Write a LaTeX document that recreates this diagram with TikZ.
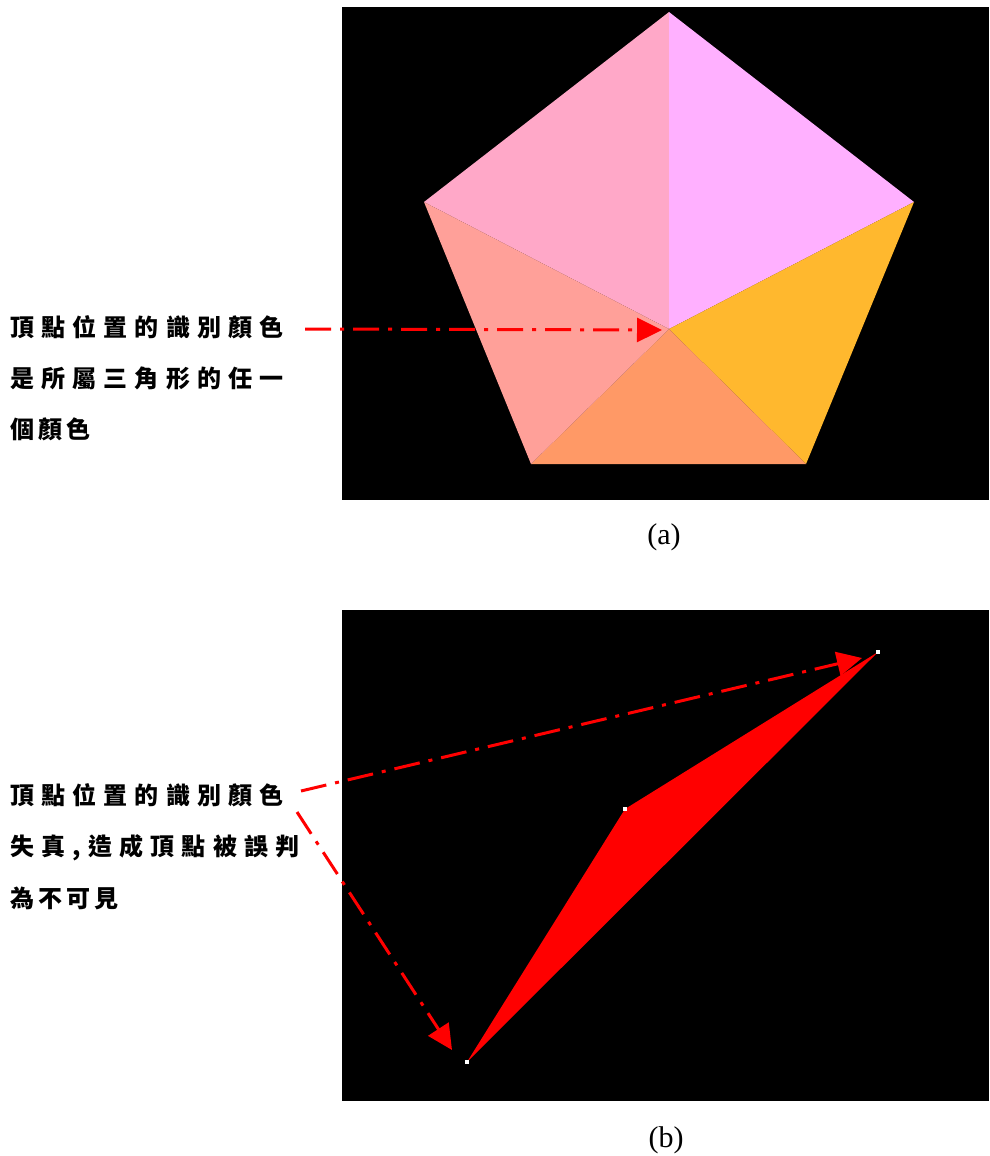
\documentclass[tikz,border=0pt]{standalone}
\usepackage{fontspec}
\setmainfont{Liberation Serif}
\newfontfamily\cjk{Noto Sans CJK TC}
\newfontfamily\cjkwide[LetterSpace=30]{Noto Sans CJK TC}
\newfontfamily\cjknarrow[LetterSpace=17]{Noto Sans CJK TC}
\usetikzlibrary{arrows.meta}
\tikzset{
    note/.style={anchor=base west,inner sep=0pt,font=\fontsize{24}{24}\selectfont},
    caption/.style={anchor=center,inner sep=0pt,font=\fontsize{30}{30}\selectfont},
    pointer/.style={red,line width=3pt,dash pattern=on 26pt off 9pt on 4pt off 9pt,-{Triangle[length=25pt,width=24pt]}},
    vertexdot/.style={fill=white,minimum size=4pt,inner sep=0pt}
}
\definecolor{faceul}{RGB}{255,168,200}
\definecolor{faceur}{RGB}{255,176,255}
\definecolor{facer}{RGB}{255,184,46}
\definecolor{faceb}{RGB}{255,153,102}
\definecolor{facel}{RGB}{255,160,153}
\begin{document}
\begin{tikzpicture}[x=1pt,y=-1pt]
                \useasboundingbox (0,0) rectangle (989,1156);
                \fill[black] (342,7) rectangle (989,500);
                \coordinate (top) at (669,12);
                \coordinate (right) at (914,202);
                \coordinate (lowright) at (806,464);
                \coordinate (lowleft) at (531,464);
                \coordinate (left) at (424,202);
                \coordinate (mid) at (669,329);
                \fill[faceul] (mid)--(left)--(top)--cycle;
                \fill[faceur] (mid)--(top)--(right)--cycle;
                \fill[facer] (mid)--(right)--(lowright)--cycle;
                \fill[faceb] (mid)--(lowright)--(lowleft)--cycle;
                \fill[facel] (mid)--(lowleft)--(left)--cycle;
                \node[note] (notea1) at (10,336) {\bfseries\cjkwide 頂點位置的識別顏色};
                \node[note] (notea2) at (10,387) {\bfseries\cjkwide 是所屬三角形的任一};
                \node[note] (notea3) at (10,438) {\bfseries\cjknarrow 個顏色};
                \coordinate (starta) at (305,329);
                \coordinate (tipa) at (662,330);
                \draw[pointer] (starta)--(tipa);
                \node[caption] (capa) at (664,537) {(a)};
                \fill[black] (342,610) rectangle (989,1101);
                \fill[red] (878,652)--(625,809)--(467,1062)--cycle;
                \node[vertexdot] (vertexa) at (878,652) {};
                \node[vertexdot] (vertexb) at (625,809) {};
                \node[vertexdot] (vertexc) at (467,1062) {};
                \node[note] (noteb1) at (10,804) {\bfseries\cjkwide 頂點位置的識別顏色};
                \node[note] (noteb2) at (10,855) {\bfseries\cjkwide 失真,造成頂點被誤判};
                \node[note] (noteb3) at (10,907) {\bfseries\cjknarrow 為不可見};
                \coordinate (startb) at (301,791);
                \coordinate (tipb) at (862,658);
                \coordinate (startc) at (297,812);
                \coordinate (tipc) at (452,1050);
                \draw[pointer] (startb)--(tipb);
                \draw[pointer] (startc)--(tipc);
                \node[caption] (capb) at (666,1140) {(b)};
            \end{tikzpicture}
\end{document}
